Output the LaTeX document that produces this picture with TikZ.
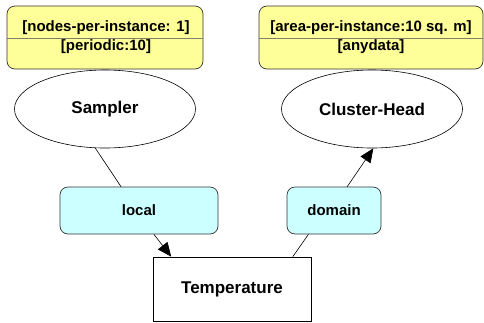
\documentclass[tikz,border=0pt]{standalone}
\usepackage{fontspec}
\setmainfont{Liberation Sans}
\usetikzlibrary{shapes.geometric,arrows.meta}
\definecolor{yel}{HTML}{FFFF99}
\definecolor{cy}{HTML}{CCFFFF}
\definecolor{divc}{HTML}{808066}
\begin{document}
\begin{tikzpicture}[x=1pt,y=-1pt,
  bigtxt/.style={font=\fontsize{17}{19}\selectfont\bfseries},
  smalltxt/.style={font=\fontsize{15}{17}\selectfont\bfseries},
  annot/.style={draw=black!80,fill=yel,rounded corners=8pt,minimum width=196pt,minimum height=63pt,inner sep=0pt,line width=0.7pt},
  ell/.style={draw,ellipse,fill=white,minimum width=181pt,minimum height=78pt,inner sep=0pt,bigtxt,line width=0.6pt},
  portbox/.style={draw=black!80,fill=cy,rounded corners=8pt,minimum height=47pt,inner sep=0pt,smalltxt,line width=0.7pt},
  sqbox/.style={draw,fill=white,minimum width=158pt,minimum height=64pt,inner sep=0pt,bigtxt,line width=0.6pt},
  conn/.style={line width=0.6pt},
  arr/.style={conn,-{Triangle[length=14pt,width=12pt]}}]
\useasboundingbox (0,0) rectangle (484,322);
% annotation boxes
\node[annot] (annL) at (105,37.5) {};
\draw[divc,line width=1pt] (annL.west |- 0,38) coordinate (dl1) -- (annL.east |- 0,38) coordinate (dl2);
\node[smalltxt] (annL1) at (106,28) {[nodes-per-instance: 1]};
\node[smalltxt] (annL2) at (106,47) {[periodic:10]};
\node[annot,minimum width=224pt] (annR) at (371,37.5) {};
\draw[divc,line width=1pt] (annR.west |- 0,38) coordinate (dr1) -- (annR.east |- 0,38) coordinate (dr2);
\node[smalltxt] (annR1) at (371,28) {[area-per-instance:10 sq. m]};
\node[smalltxt] (annR2) at (371,47) {[anydata]};
% ellipses
\node[ell] (sampler) at (105,109) {Sampler};
\node[ell] (cluster) at (372,109) {Cluster-Head};
% ports
\node[portbox,minimum width=158pt] (local) at (139,210.5) {local};
\node[portbox,minimum width=94pt] (domain) at (334,210.5) {domain};
% temperature
\node[sqbox] (temp) at (232,289) {Temperature};
% connectors
\draw[conn] (sampler.256) -- (local.127.5);
\draw[arr] (local.302.6) -- (temp.152.7);
\draw[conn] (domain.223.2) -- (temp.28.1);
\draw[arr] (domain.61) -- (cluster.272);
\end{tikzpicture}
\end{document}
